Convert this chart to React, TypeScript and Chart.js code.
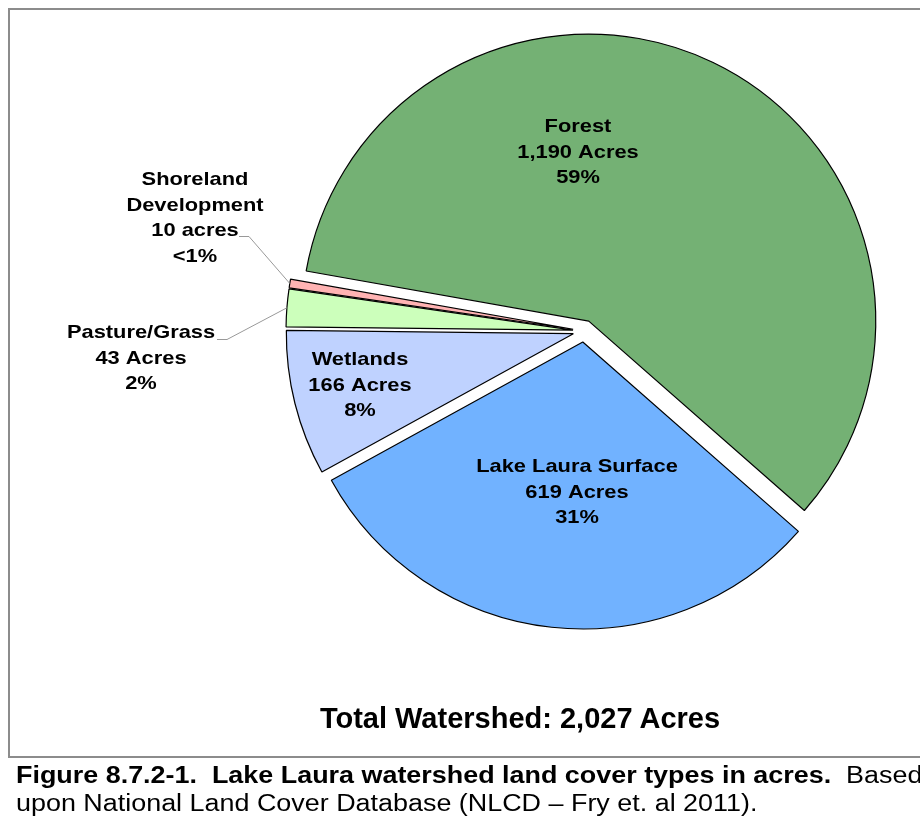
import React, { useEffect, useRef } from "react";
import { Chart, registerables } from "chart.js";

Chart.register(...registerables);

// ---- data ----
const categories = ["Lake Laura Surface", "Wetlands", "Pasture/Grass", "Shoreland Development", "Forest"];
const acres = [619, 166, 43, 10, 1190];
const nameLines = [["Lake Laura Surface"], ["Wetlands"], ["Pasture/Grass"], ["Shoreland", "Development"], ["Forest"]];
const acreLabels = ["619 Acres", "166 Acres", "43 Acres", "10 acres", "1,190 Acres"];
const percentLabels = ["31%", "8%", "2%", "<1%", "59%"];
const totalLabel = "Total Watershed: 2,027 Acres";

// ---- styles / layout ----
const sliceColors = ["#71B2FF", "#BFD2FF", "#CCFFBB", "#FFB3B3", "#74B174"];
const EXPLODE = 11;
const LABEL_FONT = 'bold 19px "Liberation Sans", Arial, sans-serif';
const LABEL_SX = 1.15;
const LINE_H = 25.5;
// label centre x and first-line centre y, per slice
const labelPos = [
  { x: 577, y: 467 },
  { x: 360, y: 360 },
  { x: 141, y: 333 },
  { x: 195, y: 180 },
  { x: 578, y: 127 },
];
// leader lines: [text end x, y, elbow x] (null = none)
const leaders: (null | { sx: number; y: number; ex: number })[] = [
  null,
  null,
  { sx: 217, y: 339, ex: 227 },
  { sx: 239, y: 236, ex: 249 },
  null,
];

function drawScaled(ctx: CanvasRenderingContext2D, text: string, x: number, y: number, sx: number) {
  ctx.save();
  ctx.translate(x, y);
  ctx.scale(sx, 1);
  ctx.fillText(text, 0, 0);
  ctx.restore();
}

const explodePlugin = {
  id: "explodeLabels",
  beforeDatasetsDraw(chart: any) {
    const meta = chart.getDatasetMeta(0);
    const ca = chart.chartArea;
    const cx = (ca.left + ca.right) / 2;
    const cy = (ca.top + ca.bottom) / 2;
    meta.data.forEach((arc: any) => {
      const mid = (arc.startAngle + arc.endAngle) / 2;
      arc.x = cx + Math.cos(mid) * EXPLODE;
      arc.y = cy + Math.sin(mid) * EXPLODE;
    });
  },
  afterDatasetsDraw(chart: any) {
    const ctx: CanvasRenderingContext2D = chart.ctx;
    const meta = chart.getDatasetMeta(0);
    // leader lines
    meta.data.forEach((arc: any, i: number) => {
      const l = leaders[i];
      if (!l) return;
      const mid = (arc.startAngle + arc.endAngle) / 2;
      const px = arc.x + Math.cos(mid) * arc.outerRadius;
      const py = arc.y + Math.sin(mid) * arc.outerRadius;
      ctx.save();
      ctx.strokeStyle = "#999999";
      ctx.lineWidth = 1;
      ctx.beginPath();
      ctx.moveTo(l.sx, l.y + 0.5);
      ctx.lineTo(l.ex, l.y + 0.5);
      ctx.lineTo(px, py);
      ctx.stroke();
      ctx.restore();
    });
    // labels
    ctx.save();
    ctx.font = LABEL_FONT;
    ctx.fillStyle = "#000";
    ctx.textAlign = "center";
    ctx.textBaseline = "middle";
    categories.forEach((_, i) => {
      const lines = [...nameLines[i], acreLabels[i], percentLabels[i]];
      const p = labelPos[i];
      lines.forEach((t, k) => drawScaled(ctx, t, p.x, p.y + k * LINE_H, LABEL_SX));
    });
    ctx.restore();
  },
};

function PieChart() {
  const ref = useRef<HTMLCanvasElement | null>(null);
  useEffect(() => {
    if (!ref.current) return;
    const chart = new Chart(ref.current, {
      type: "pie",
      data: {
        labels: categories,
        datasets: [
          {
            data: acres,
            backgroundColor: sliceColors,
            borderColor: "#000000",
            borderWidth: 1.2,
          },
        ],
      },
      options: {
        animation: false,
        responsive: false,
        devicePixelRatio: 1,
        rotation: 131.3,
        radius: 287,
        layout: { padding: { left: 284, right: 36, top: 31, bottom: 186 } },
        plugins: {
          legend: { display: false },
          tooltip: { enabled: false },
          title: { display: false },
        },
      } as any,
      plugins: [explodePlugin as any],
    });
    return () => chart.destroy();
  }, []);
  return (
    <canvas
      ref={ref}
      width={920}
      height={817}
      style={{ position: "absolute", left: 0, top: 0, width: 920, height: 817 }}
    />
  );
}

export default function App() {
  return (
    <div
      style={{
        position: "absolute",
        left: 0,
        top: 0,
        width: 920,
        height: 817,
        overflow: "hidden",
        background: "#fff",
        fontFamily: '"Liberation Sans", Arial, sans-serif',
      }}
    >
      <div
        style={{
          position: "absolute",
          left: 8,
          top: 8,
          width: 1000,
          height: 746,
          border: "2px solid #8C8C8C",
        }}
      />
      <PieChart />
      <div
        style={{
          position: "absolute",
          left: 0,
          top: 701,
          width: 1040,
          textAlign: "center",
          fontWeight: "bold",
          fontSize: 29,
          lineHeight: "34px",
          color: "#000",
          whiteSpace: "nowrap",
        }}
      >
        {totalLabel}
      </div>
      <div
        style={{
          position: "absolute",
          left: 16,
          top: 761,
          fontSize: 23,
          lineHeight: "28px",
          color: "#000",
          whiteSpace: "pre",
          transform: "scaleX(1.17)",
          transformOrigin: "left top",
        }}
      >
        <b>Figure 8.7.2-1.  Lake Laura watershed land cover types in acres.</b>
        {"  Based\nupon National Land Cover Database (NLCD \u2013 Fry et. al 2011)."}
      </div>
    </div>
  );
}
